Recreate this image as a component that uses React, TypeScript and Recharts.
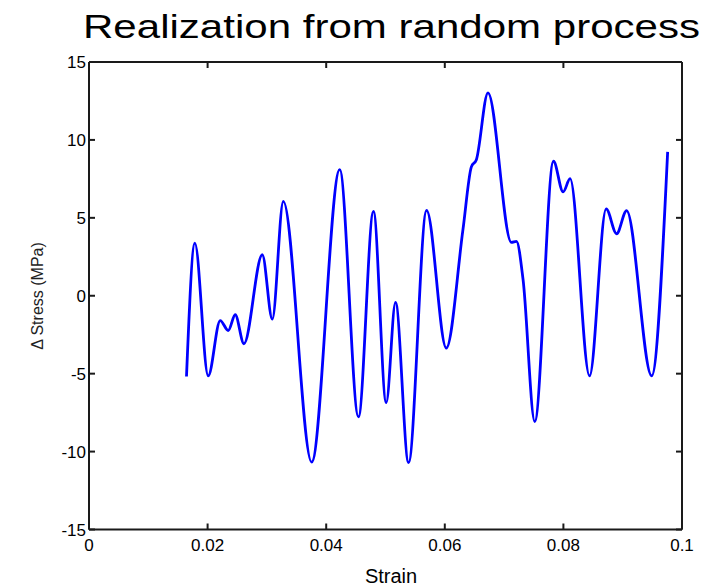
import React from "react";
import { LineChart, Line, XAxis, YAxis, Label } from "recharts";

const strain = [0.01644, 0.01785, 0.0201, 0.02213, 0.02348, 0.02466, 0.02613, 0.02922, 0.03091, 0.03277, 0.03755, 0.04228, 0.04544, 0.04797, 0.05012, 0.05169, 0.05389, 0.05693, 0.06025, 0.06306, 0.06448, 0.06532, 0.06728, 0.07123, 0.07208, 0.0732, 0.07517, 0.07833, 0.07995, 0.08113, 0.08441, 0.08721, 0.08897, 0.09066, 0.09488, 0.09758];
const stress = [-5.18, 3.38, -5.14, -1.59, -2.23, -1.22, -3.08, 2.63, -1.5, 6.06, -10.68, 8.09, -7.77, 5.41, -6.85, -0.43, -10.71, 5.48, -3.36, 4.24, 8.27, 8.73, 13.02, 3.42, 3.49, 1.03, -8.07, 8.63, 6.66, 7.51, -5.14, 5.57, 3.98, 5.46, -5.14, 9.23];

const xTicks = [0, 0.02, 0.04, 0.06, 0.08, 0.1];
const yTicks = [-15, -10, -5, 0, 5, 10, 15];

const title = "Realization from random process";
const xLabel = "Strain";
const yLabel = "\u0394 Stress (MPa)";

const data = strain.map((s, i) => ({ x: s, y: stress[i] }));

const FONT = "'Liberation Sans', Arial, Helvetica, sans-serif";
const AXIS = "#1a1a1a";
const noTick = () => <g />;

export default function App() {
  const lineStyle = { stroke: AXIS, strokeWidth: 2 };
  return (
    <div style={{ position: "absolute", left: 0, top: 0, width: 725, height: 586 }}>
      <LineChart
        width={725}
        height={586}
        data={data}
        margin={{ top: 62, right: 43, bottom: 0, left: 0 }}
      >
        {/* labelled axes (no lines) */}
        <XAxis
          type="number"
          dataKey="x"
          domain={[0, 0.1]}
          allowDataOverflow
          ticks={xTicks}
          interval={0}
          height={56.5}
          tickSize={0}
          tickMargin={9.5}
          axisLine={false}
          tickLine={false}
          tick={{ fill: "#000", fontSize: 17, fontFamily: FONT }}
        >
          <Label
            content={() => (
              <text x={391} y={583} textAnchor="middle" fontSize={20} fontFamily={FONT} fill="#000">
                {xLabel}
              </text>
            )}
          />
        </XAxis>
        <YAxis
          type="number"
          domain={[-15, 15]}
          allowDataOverflow
          ticks={yTicks}
          interval={0}
          width={89}
          tickSize={0}
          tickMargin={3}
          axisLine={false}
          tickLine={false}
          tick={{ fill: "#000", fontSize: 17, fontFamily: FONT }}
        >
          <Label
            content={() => (
              <text
                x={43}
                y={296}
                transform="rotate(-90, 43, 296)"
                textAnchor="middle"
                fontSize={16}
                fontFamily={FONT}
                fill="#222"
              >
                {yLabel}
              </text>
            )}
          />
        </YAxis>
        {/* box with inward ticks (mirrored axes) */}
        <XAxis
          xAxisId="bm"
          orientation="bottom"
          mirror
          type="number"
          dataKey="x"
          domain={[0, 0.1]}
          allowDataOverflow
          ticks={xTicks}
          interval={0}
          height={6}
          tickSize={6}
          tick={noTick}
          axisLine={lineStyle}
          tickLine={lineStyle}
        />
        <XAxis
          xAxisId="tm"
          orientation="top"
          mirror
          type="number"
          dataKey="x"
          domain={[0, 0.1]}
          allowDataOverflow
          ticks={xTicks}
          interval={0}
          height={6}
          tickSize={6}
          tick={noTick}
          axisLine={lineStyle}
          tickLine={lineStyle}
        />
        <YAxis
          yAxisId="lm"
          orientation="left"
          mirror
          type="number"
          domain={[-15, 15]}
          allowDataOverflow
          ticks={yTicks}
          interval={0}
          width={6}
          tickSize={6}
          tick={noTick}
          axisLine={lineStyle}
          tickLine={lineStyle}
        />
        <YAxis
          yAxisId="rm"
          orientation="right"
          mirror
          type="number"
          domain={[-15, 15]}
          allowDataOverflow
          ticks={yTicks}
          interval={0}
          width={6}
          tickSize={6}
          tick={noTick}
          axisLine={lineStyle}
          tickLine={lineStyle}
        />
        <Line
          type="monotone"
          dataKey="y"
          stroke="#0000ff"
          strokeWidth={2.8}
          dot={false}
          activeDot={false}
          isAnimationActive={false}
        />
      </LineChart>
      <svg
        width={725}
        height={60}
        style={{ position: "absolute", left: 0, top: 0, pointerEvents: "none" }}
      >
        <text
          x={83}
          y={38}
          fontSize={34}
          fontFamily={FONT}
          fill="#000"
          textLength={617}
          lengthAdjust="spacingAndGlyphs"
        >
          {title}
        </text>
      </svg>
    </div>
  );
}
